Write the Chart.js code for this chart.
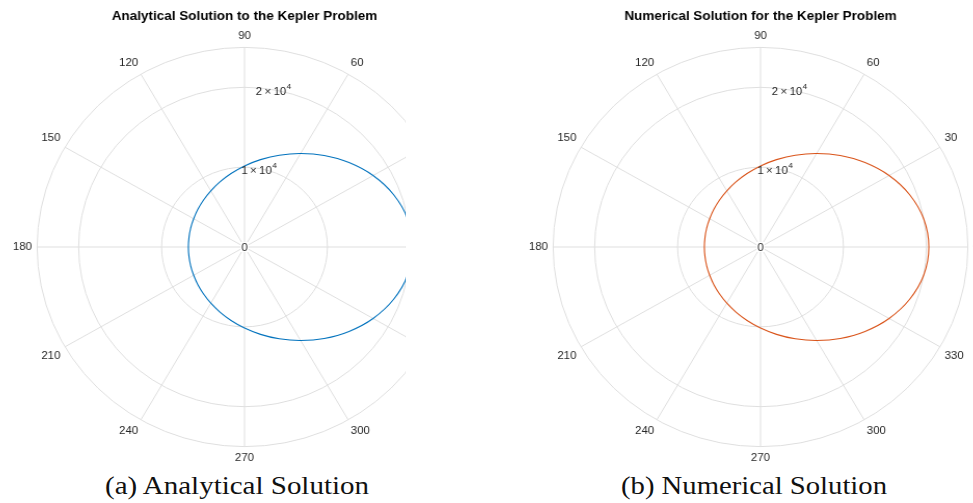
<!DOCTYPE html>
<html>
<head>
<meta charset="utf-8">
<script src="https://cdn.jsdelivr.net/npm/chart.js@4"></script>
<style>
  html, body { margin: 0; padding: 0; background: #fff; overflow: hidden; }
  #page { position: relative; width: 973px; height: 503px; overflow: hidden; }
  .clip { position: absolute; top: 0; overflow: hidden; height: 466px; }
  canvas { position: absolute; top: 0; }
  .cap { position: absolute; top: 473px; font-family: "Liberation Serif", "DejaVu Serif", serif;
         font-size: 25px; line-height: 25px; color: #111; white-space: nowrap;
         transform-origin: 0 0; }
</style>
</head>
<body>
<div id="page">
  <div class="clip" style="left:0; width:406px;">
    <canvas id="leftChart" width="490" height="466" style="left:-10px; width:508.6px; height:466px;"></canvas>
  </div>
  <div class="clip" style="left:506px; width:467px;">
    <canvas id="rightChart" width="490" height="466" style="left:0; width:508.6px; height:466px;"></canvas>
  </div>
  <div class="cap" id="capA" style="left:105px;">(a) Analytical Solution</div>
  <div class="cap" id="capB" style="left:621px;">(b) Numerical Solution</div>
</div>
<script>
// polar angle of each sample (degrees), going clockwise from the top like the radar scale
const angleLabels = ['90', '80', '70', '60', '50', '40', '30', '20', '10', '0',
  '350', '340', '330', '320', '310', '300', '290', '280', '270', '260',
  '250', '240', '230', '220', '210', '200', '190', '180', '170', '160',
  '150', '140', '130', '120', '110', '100'];

// orbit radius
const analyticR = [10150, 11110, 12240, 13530, 14960, 16450, 17900, 19140, 20000, 20300,
  20000, 19140, 17900, 16450, 14960, 13530, 12240, 11110, 10150, 9340,
  8670, 8120, 7680, 7340, 7080, 6910, 6800, 6770, 6800, 6910,
  7080, 7340, 7680, 8120, 8670, 9340];

// orbit radius
const numericR = [10150, 11110, 12240, 13530, 14960, 16450, 17900, 19140, 20000, 20300,
  20000, 19140, 17900, 16450, 14960, 13530, 12240, 11110, 10150, 9340,
  8670, 8120, 7680, 7340, 7080, 6910, 6800, 6770, 6800, 6910,
  7080, 7340, 7680, 8120, 8670, 9340];

// radial grid rings and the ones that get a label
const rRings = [0, 10000, 20000, 25000];
const rTicks = [10000, 20000];
const rTickLabels = ['1', '2'];
const rMax = 25000;

const gridColor = '#dfdfdf';
const textColor = '#262626';
const sans = '"Liberation Sans", Arial, sans-serif';

// draws r tick labels along the 80 degree line and the 0 at the centre
const rLabelPlugin = {
  id: 'rLabels',
  afterDraw(chart) {
    const s = chart.scales.r;
    const ctx = chart.ctx;
    ctx.save();
    ctx.textBaseline = 'middle';
    ctx.textAlign = 'center';
    ctx.font = '11px ' + sans;
    ctx.fillStyle = '#fff';
    ctx.fillRect(s.xCenter - 4, s.yCenter - 5, 8, 10);
    ctx.fillStyle = textColor;
    ctx.fillText('0', s.xCenter, s.yCenter + 0.5);
    const a = 80 * Math.PI / 180;
    rTicks.forEach((v, i) => {
      const d = s.getDistanceFromCenterForValue(v);
      const x = s.xCenter + d * Math.cos(a);
      const y = s.yCenter - d * Math.sin(a) + 2.3;
      const big = '11px ' + sans;
      const small = '8px ' + sans;
      ctx.font = big;
      const w1 = ctx.measureText(rTickLabels[i]).width;
      const wx = ctx.measureText('\u00d7').width;
      const w10 = ctx.measureText('10').width;
      ctx.font = small;
      const w4 = ctx.measureText('4').width;
      const gap = 2.3;
      const total = w1 + gap + wx + gap + w10 + w4;
      let cx = x - total / 2;
      ctx.textAlign = 'left';
      ctx.font = big;
      ctx.fillText(rTickLabels[i], cx, y); cx += w1 + gap;
      ctx.fillText('\u00d7', cx, y); cx += wx + gap;
      ctx.fillText('10', cx, y); cx += w10 + 0.3;
      ctx.font = small;
      ctx.fillText('4', cx, y - 5);
    });
    ctx.restore();
  }
};

function drawPolar(canvasId, values, color, title) {
  const context = document.getElementById(canvasId).getContext('2d');
  return new Chart(context, {
    type: 'radar',
    data: { labels: angleLabels, datasets: [{ data: values, borderColor: color, borderWidth: 1.1,
      fill: false, pointRadius: 0, pointHoverRadius: 0, tension: 0.33 }] },
    options: {
      responsive: false, animation: false, events: [],
      layout: { padding: 0 },
      plugins: {
        legend: { display: false }, tooltip: { enabled: false },
        title: { display: true, text: title, color: '#000',
          font: { family: sans, size: 13, weight: 'bold' },
          padding: { top: 9, bottom: 4.6 } }
      },
      scales: { r: {
        min: 0, max: rMax, startAngle: 0,
        afterBuildTicks: s => { s.ticks = rRings.map(v => ({ value: v })); },
        ticks: { display: false },
        grid: { circular: true, color: gridColor, lineWidth: 1 },
        angleLines: { display: true, lineWidth: 1,
          color: c => (Number(angleLabels[c.index]) % 30 === 0 ? gridColor : 'rgba(0,0,0,0)') },
        pointLabels: { display: true, padding: 5, color: textColor,
          font: { family: sans, size: 11 },
          callback: l => (Number(l) % 30 === 0 ? l : '') }
      } }
    },
    plugins: [rLabelPlugin]
  });
}

drawPolar('leftChart', analyticR, '#0072BD', 'Analytical Solution to the Kepler Problem');
drawPolar('rightChart', numericR, '#D95319', 'Numerical Solution for the Kepler Problem');

// captions are set in a wide serif; stretch to the widths of the original
[['capA', 264], ['capB', 266]].forEach(([id, w]) => {
  const el = document.getElementById(id);
  el.style.transform = 'scaleX(' + (w / el.getBoundingClientRect().width) + ')';
});
</script>
</body>
</html>
